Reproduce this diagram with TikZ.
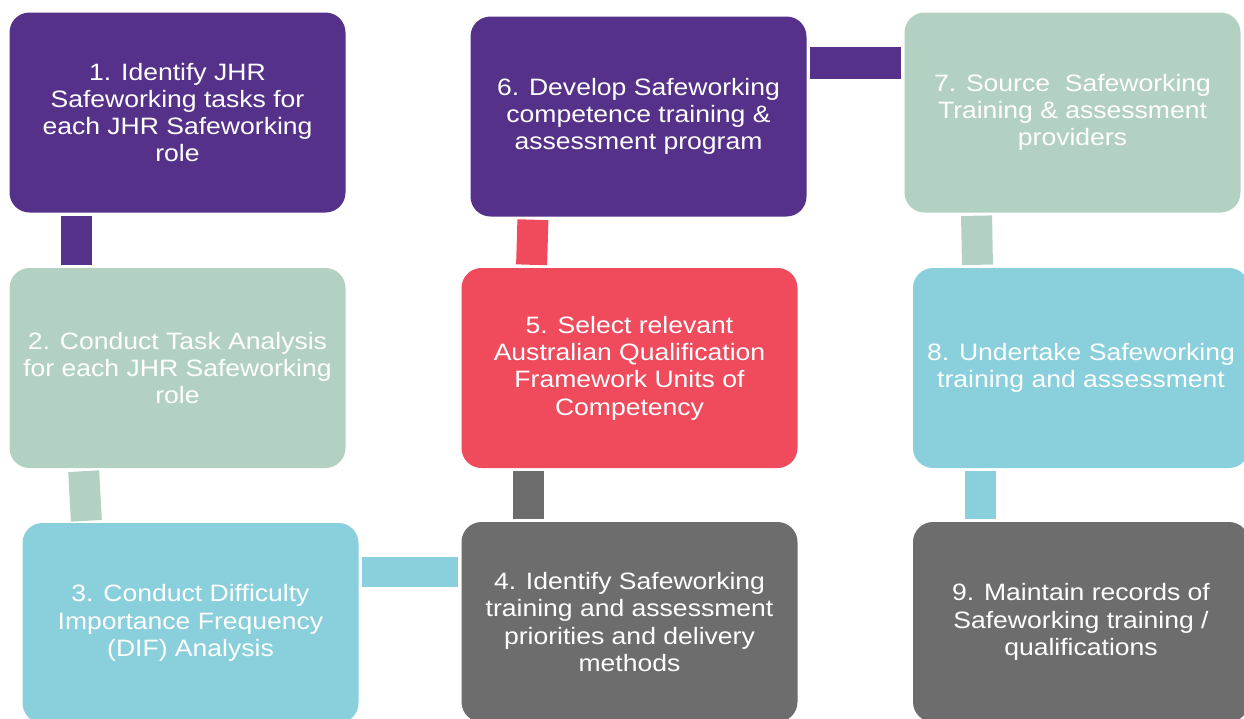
\documentclass[tikz,border=0pt]{standalone}
\usepackage{fontspec}
\setmainfont{Liberation Sans}[FakeStretch=1.12]
\usetikzlibrary{calc}
\definecolor{cpurple}{RGB}{85,49,138}
\definecolor{cgreen}{RGB}{179,209,195}
\definecolor{cblue}{RGB}{137,208,220}
\definecolor{cred}{RGB}{239,75,92}
\definecolor{cgrey}{RGB}{109,109,109}
\begin{document}
\begin{tikzpicture}[x=1pt,y=-1pt,
  stage/.style={rectangle, rounded corners=20pt, minimum width=336pt,
    minimum height=200pt, inner sep=0pt, align=center, text=white,
    font=\fontsize{23.7}{27.3}\selectfont},
  link/.style={line width=31pt, line cap=butt, shorten <=3pt, shorten >=3pt}]
\useasboundingbox (0,0) rectangle (1244,718);
\clip (0,0) rectangle (1244,718);

% process stages
\node[stage, fill=cpurple] (s1) at (177.5,112.5)
  {1. Identify JHR\\Safeworking tasks for\\each JHR Safeworking\\role};
\node[stage, fill=cgreen] (s2) at (177.5,368)
  {2. Conduct Task Analysis\\for each JHR Safeworking\\role};
\node[stage, fill=cblue] (s3) at (190.5,623)
  {3. Conduct Difficulty\\Importance Frequency\\(DIF) Analysis};
\node[stage, fill=cgrey] (s4) at (629.5,622)
  {4. Identify Safeworking\\training and assessment\\priorities and delivery\\methods};
\node[stage, fill=cred] (s5) at (629.5,368)
  {5. Select relevant\\Australian Qualification\\Framework Units of\\Competency};
\node[stage, fill=cpurple] (s6) at (638.5,116.5)
  {6. Develop Safeworking\\competence training \&\\assessment program};
\node[stage, fill=cgreen] (s7) at (1072.5,112.5)
  {7. Source\ \ Safeworking\\Training \& assessment\\providers};
\node[stage, fill=cblue] (s8) at (1081,368)
  {8. Undertake Safeworking\\training and assessment};
\node[stage, fill=cgrey] (s9) at (1081,622)
  {9. Maintain records of\\Safeworking training /\\qualifications};

% connecting bars
\draw[link, cpurple] ($(s1.south)+(-101,0)$) -- ($(s2.north)+(-101,0)$);
\draw[link, cgreen, shorten >=2pt] ($(s2.south)+(-94,0)$) -- ($(s3.north)+(-104,0)$);
\draw[link, cblue, line width=30pt] ($(s3.east)+(0,-51)$) -- ($(s4.west)+(0,-50)$);
\draw[link, cgrey] ($(s4.north)+(-101,0)$) -- ($(s5.south)+(-101,0)$);
\draw[link, cred] ($(s5.north)+(-98,0)$) -- ($(s6.south)+(-105.5,0)$);
\draw[link, cpurple, line width=32pt] ($(s6.east)+(0,-53.5)$) -- ($(s7.west)+(0,-49.5)$);
\draw[link, cgreen] ($(s7.south)+(-96,0)$) -- ($(s8.north)+(-103.5,0)$);
\draw[link, cblue] ($(s8.south)+(-100.5,0)$) -- ($(s9.north)+(-100.5,0)$);
\end{tikzpicture}
\end{document}
